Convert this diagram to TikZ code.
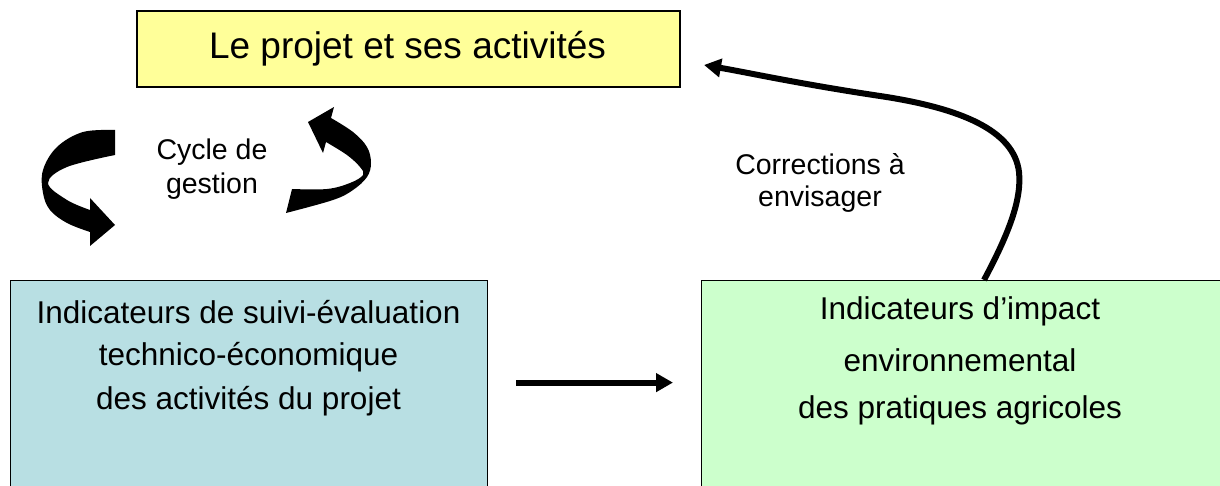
\documentclass[tikz,border=0pt]{standalone}
\usepackage{fontspec}
\setmainfont{Liberation Sans}
\usetikzlibrary{arrows.meta}
\definecolor{boxyellow}{RGB}{255,255,153}
\definecolor{boxblue}{RGB}{184,223,227}
\definecolor{boxgreen}{RGB}{204,255,204}
\tikzset{
  topbox/.style={draw=black, line width=2.2pt, fill=boxyellow, rectangle, inner sep=0pt, anchor=north west},
  bigbox/.style={draw=black, line width=1.2pt, rectangle, inner sep=0pt, anchor=north west},
  boxtext/.style={anchor=base, inner sep=0pt, align=center},
  thickarrow/.style={line width=6pt, -{Triangle[length=17pt,width=18pt]}},
  curlarrow/.style={fill=black},
}
\begin{document}
\begin{tikzpicture}[x=1pt,y=-1pt]
\useasboundingbox (0,0) rectangle (1220,486);
\clip (0,0) rectangle (1220,486);
\fill[white] (0,0) rectangle (1220,486);

% boxes
\node[topbox, minimum width=543pt, minimum height=76pt] (tb) at (136,10) {};
\node[bigbox, fill=boxblue, minimum width=477pt, minimum height=220pt] (lb) at (10,280) {};
\node[bigbox, fill=boxgreen, minimum width=524pt, minimum height=220pt] (rb) at (701,280) {};

% texts
\node[boxtext] (tbt) at (407.5,59) {\fontsize{37}{44}\selectfont Le projet et ses activités};
\node[boxtext] (lbt) at (248.5,323) {\fontsize{31.5}{43}\selectfont\begin{tabular}[t]{@{}c@{}}Indicateurs de suivi-évaluation\\technico-économique\\des activités du projet\end{tabular}};
\node[boxtext] (rbt) at (960,319) {\fontsize{31.5}{47}\selectfont\begin{tabular}[t]{@{}c@{}}Indicateurs d’impact\\[5pt]environnemental\\des pratiques agricoles\end{tabular}};
\node[boxtext] (cyc) at (212,160) {\fontsize{28.5}{34}\selectfont\begin{tabular}[t]{@{}c@{}}Cycle de\\gestion\end{tabular}};
\node[boxtext] (cor) at (820,175) {\fontsize{28.5}{32}\selectfont\begin{tabular}[t]{@{}c@{}}Corrections à\\envisager\end{tabular}};

% straight arrow between the two lower boxes
\draw[thickarrow, shorten <=28pt, shorten >=28pt] ([yshift=8pt]lb.east) -- ([yshift=8pt]rb.west);

% curved feedback arrow
\coordinate (cs) at ([xshift=283pt]rb.north west);
\coordinate (ctip) at (704,65);
\draw[thickarrow, -{Triangle[length=17pt,width=18pt]}] (cs) .. controls (1008,235) and (1022,200) .. (1019,172)
  .. controls (1014,130) and (960,108) .. (880,96)
  .. controls (800,84) and (750,73) .. (ctip);

% left curled arrow
\fill[curlarrow] (115,130) -- plot[smooth, tension=0.6] coordinates {(115,130) (83,132) (57,147) (43,170) (43,193) (50,210) (67,223) (90,232)}
  -- (90,246) -- (115,225) -- (90,198) -- (90,210)
  -- plot[smooth, tension=0.6] coordinates {(90,210) (67,200) (48,183) (67,167) (115,155)} -- cycle;

% right curled arrow
\fill[curlarrow] (286,213) -- plot[smooth, tension=0.6] coordinates {(286,213) (333,200) (353,190) (367,177) (371,163) (367,147) (353,132) (331,118)}
  -- (334,107) -- (308,122) -- (323,153) -- (326,142)
  -- plot[smooth, tension=0.6] coordinates {(326,142) (347,155) (360,167) (363,175) (350,183) (327,189) (292,189)} -- cycle;
\end{tikzpicture}
\end{document}
